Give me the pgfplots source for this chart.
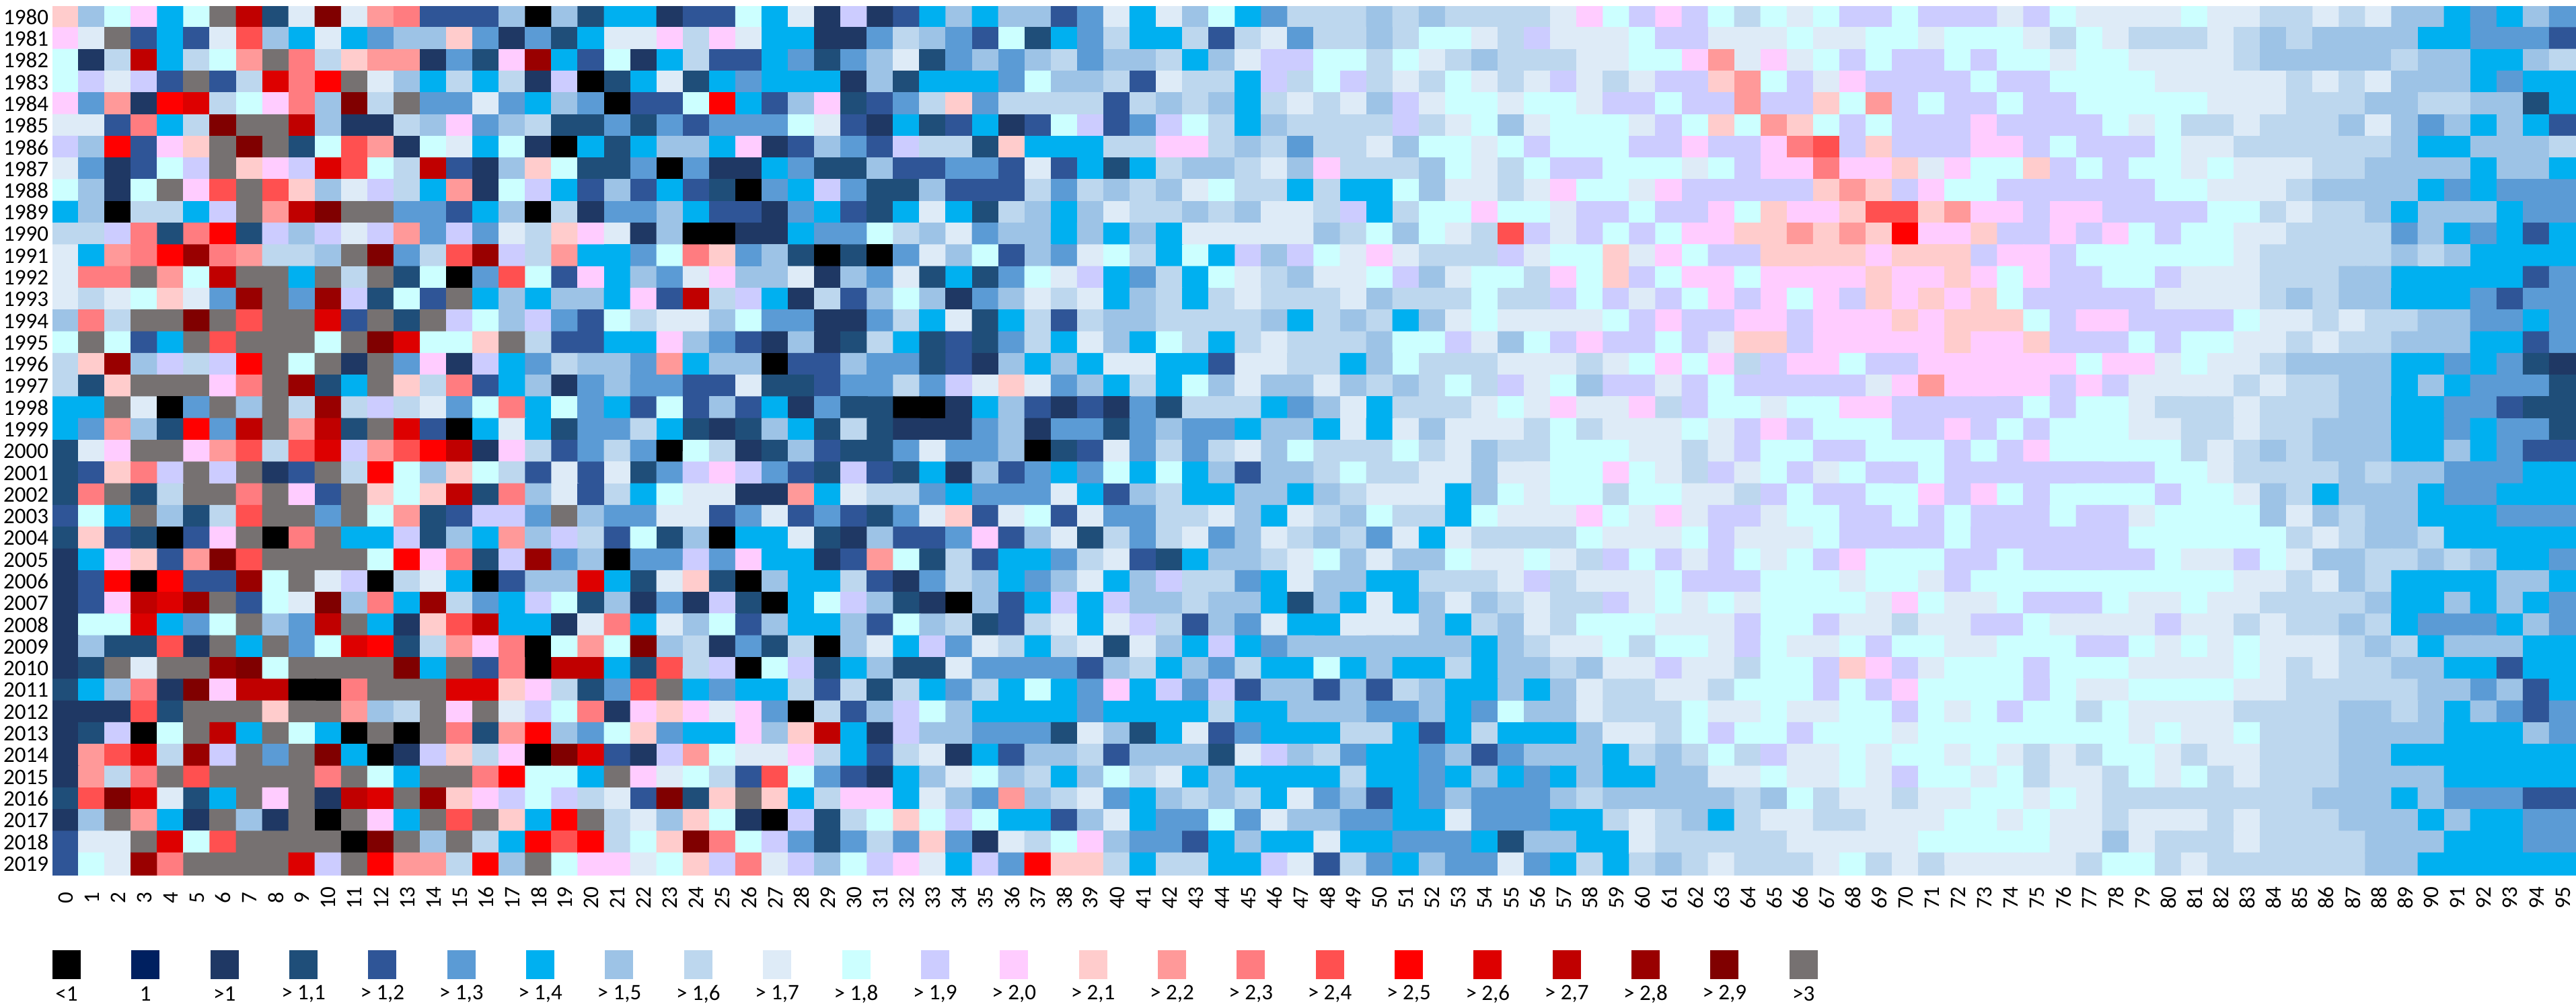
\documentclass[border=0pt]{standalone}
\usepackage{fontspec}
\setmainfont{Carlito}
\usepackage{pgfplots}
\pgfplotsset{compat=1.18}
\definecolor{c0}{RGB}{0,0,0}
\definecolor{c1}{RGB}{0,32,96}
\definecolor{c2}{RGB}{31,56,100}
\definecolor{c3}{RGB}{31,78,121}
\definecolor{c4}{RGB}{47,85,151}
\definecolor{c5}{RGB}{91,155,213}
\definecolor{c6}{RGB}{0,176,240}
\definecolor{c7}{RGB}{157,195,230}
\definecolor{c8}{RGB}{189,215,238}
\definecolor{c9}{RGB}{222,235,247}
\definecolor{c10}{RGB}{204,255,255}
\definecolor{c11}{RGB}{204,204,255}
\definecolor{c12}{RGB}{255,204,255}
\definecolor{c13}{RGB}{255,204,204}
\definecolor{c14}{RGB}{255,153,153}
\definecolor{c15}{RGB}{255,124,128}
\definecolor{c16}{RGB}{255,80,80}
\definecolor{c17}{RGB}{255,0,0}
\definecolor{c18}{RGB}{221,0,0}
\definecolor{c19}{RGB}{192,0,0}
\definecolor{c20}{RGB}{153,0,0}
\definecolor{c21}{RGB}{128,0,0}
\definecolor{c22}{RGB}{118,113,113}
\begin{document}
\begin{tikzpicture}[x=1pt,y=1pt]
\useasboundingbox (0,0) rectangle (765.8,298.4);
\begin{axis}[
  at={(15.6pt,38.2pt)},anchor=south west,scale only axis,
  width=750.2pt,height=258.4pt,
  xmin=-0.5,xmax=95.5,ymin=1979.5,ymax=2019.5,y dir=reverse,
  enlargelimits=false,
  xtick={0,...,95},ytick={1980,...,2019},
  major tick length=0pt,
  axis line style={draw=none},
  /pgf/number format/assume math mode=true,
  /pgf/number format/1000 sep={},
  tick label style={font=\fontsize{6.6}{7}\selectfont,black},
  xticklabel style={yshift=-6.8pt,rotate=90,anchor=center,inner sep=0pt},
  yticklabel style={inner sep=0pt,xshift=-1pt},
  colormap={heat}{rgb255=(0,0,0) rgb255=(0,32,96) rgb255=(31,56,100) rgb255=(31,78,121) rgb255=(47,85,151) rgb255=(91,155,213) rgb255=(0,176,240) rgb255=(157,195,230) rgb255=(189,215,238) rgb255=(222,235,247) rgb255=(204,255,255) rgb255=(204,204,255) rgb255=(255,204,255) rgb255=(255,204,204) rgb255=(255,153,153) rgb255=(255,124,128) rgb255=(255,80,80) rgb255=(255,0,0) rgb255=(221,0,0) rgb255=(192,0,0) rgb255=(153,0,0) rgb255=(128,0,0) rgb255=(118,113,113)},
  colormap access=direct,
]
\addplot[matrix plot*,mesh/cols=96,point meta=explicit] table[header=false,x expr={\coordindex-96*floor((\coordindex+0.5)/96)},y expr={1980+floor((\coordindex+0.5)/96)},meta index=0] {
13
7
10
12
6
10
22
19
3
9
21
9
14
15
4
4
4
7
0
7
3
6
6
2
4
4
10
6
9
2
11
2
4
6
7
6
7
7
4
5
9
6
9
7
10
6
5
8
8
8
7
8
7
8
8
8
8
9
12
10
11
12
11
10
8
10
9
10
11
11
10
11
11
11
9
11
10
9
9
9
9
10
9
9
8
8
9
8
9
7
7
6
5
6
7
5
12
9
22
4
6
4
9
16
7
6
9
6
5
7
7
13
5
2
5
3
6
9
9
12
8
12
9
6
6
2
2
5
8
7
5
4
10
3
6
5
8
6
6
8
4
8
9
5
8
8
7
8
10
10
9
8
11
9
9
9
10
11
11
9
9
9
10
9
9
10
10
9
10
10
10
9
8
10
9
8
8
8
9
8
7
8
7
7
7
7
6
6
5
5
5
4
10
2
8
19
6
8
10
14
22
15
8
13
14
14
2
5
3
12
20
6
4
10
2
6
8
4
4
6
5
3
5
7
9
3
5
7
5
7
8
5
7
7
8
6
7
9
11
11
10
10
8
10
9
8
7
8
8
8
9
9
10
10
12
14
9
12
9
10
11
10
11
11
10
11
10
10
9
10
10
9
9
9
9
8
7
7
7
7
7
8
7
7
6
6
7
8
10
11
9
11
4
22
4
8
18
15
17
22
9
7
6
8
6
8
2
11
0
3
6
9
3
6
5
6
6
6
2
7
3
6
6
6
5
10
7
7
8
4
9
8
8
6
11
8
10
11
8
9
8
10
9
8
9
11
9
8
9
11
11
13
14
10
11
9
12
11
11
11
11
10
11
11
10
10
10
10
9
9
9
9
9
8
9
8
9
7
7
7
6
5
6
6
12
5
14
2
17
18
8
10
12
15
7
21
8
22
5
5
9
5
6
7
5
0
4
4
10
17
6
4
7
12
3
4
5
8
13
5
8
8
8
8
4
8
7
8
7
6
8
9
8
9
7
11
9
10
10
9
10
10
9
11
11
10
11
11
14
11
11
13
10
14
11
10
11
11
10
11
11
10
10
10
10
10
9
9
9
8
8
8
7
7
8
8
7
7
3
6
9
9
4
15
6
8
21
22
22
19
7
2
2
8
7
12
5
7
8
3
3
5
3
5
4
5
5
5
10
9
4
2
6
3
4
6
2
4
10
11
4
5
11
10
8
6
7
8
8
8
8
11
8
9
10
7
9
10
10
10
9
11
10
13
10
14
13
10
11
10
11
11
11
12
11
11
11
11
10
9
10
8
8
9
8
8
8
7
9
7
5
7
6
7
6
4
11
7
17
4
12
13
22
21
22
3
10
16
14
2
10
9
6
10
2
0
6
3
6
7
7
6
12
2
4
7
5
4
11
8
8
3
13
6
6
6
8
8
12
12
8
7
8
5
8
8
9
7
10
10
9
10
11
10
10
10
11
11
12
11
11
12
15
16
11
13
11
11
11
12
12
11
10
11
11
11
10
9
9
8
8
8
8
8
8
7
6
6
7
7
7
8
9
5
2
4
10
11
22
13
12
11
18
16
10
8
19
4
2
7
13
10
3
3
5
0
5
2
2
6
5
3
3
7
4
4
5
5
4
9
4
6
3
6
8
7
7
8
9
7
12
8
8
8
7
10
9
8
10
11
11
10
10
10
9
10
11
12
12
15
12
12
13
9
12
10
10
13
11
10
11
10
10
9
10
9
9
9
8
8
7
7
7
7
6
7
7
6
10
7
2
10
22
12
16
22
16
13
7
9
11
8
6
14
2
10
11
6
4
7
4
6
4
3
0
5
6
11
5
3
3
7
4
4
4
8
5
8
7
8
7
9
10
8
8
6
8
6
6
10
7
9
9
8
9
12
10
10
9
12
11
11
11
11
11
13
14
13
11
12
10
10
11
11
11
11
11
11
10
10
9
9
9
8
7
7
7
7
6
5
6
5
5
5
6
7
0
8
8
6
11
22
14
19
21
22
22
5
5
4
6
7
0
8
2
5
5
7
6
4
4
2
5
6
4
3
6
9
6
3
8
7
6
7
9
8
8
7
8
7
9
9
8
11
6
8
10
10
12
10
10
9
11
11
10
11
11
12
10
13
12
12
13
16
16
13
14
12
12
11
12
12
11
11
11
11
10
10
8
9
8
8
7
6
7
7
7
6
5
5
8
8
11
15
3
15
17
3
11
7
11
9
11
14
5
11
5
9
8
13
12
9
2
7
0
0
2
2
6
5
5
10
8
7
9
5
7
7
6
7
6
7
6
9
9
9
9
9
7
8
10
7
10
9
8
16
11
9
11
10
11
10
12
12
13
13
14
13
14
13
17
12
12
13
11
11
12
11
12
10
11
10
10
9
9
8
8
8
8
5
7
6
5
6
4
6
9
6
14
15
17
20
15
14
8
8
7
22
21
5
8
16
20
11
8
14
6
6
5
10
15
13
5
7
3
0
3
0
5
9
7
10
4
7
5
9
10
8
6
10
6
11
7
11
10
9
12
9
8
8
8
11
9
10
10
13
9
12
10
11
11
13
13
13
13
12
13
13
13
11
12
12
11
10
10
10
10
10
10
9
8
8
8
8
8
7
8
7
6
6
6
6
9
15
15
22
14
10
19
22
22
6
22
8
22
3
10
0
5
16
10
4
12
6
7
5
9
12
7
7
9
2
7
5
9
3
6
3
5
10
9
11
6
5
8
6
10
9
8
7
9
9
10
11
7
9
10
10
8
12
10
13
11
10
12
12
10
12
12
12
12
13
12
12
13
12
10
12
11
11
10
10
11
9
9
9
8
8
8
7
7
6
6
6
6
6
4
5
9
8
9
10
13
9
5
20
22
5
20
11
3
10
4
22
6
7
6
7
7
6
12
4
19
8
11
6
2
8
4
7
10
7
2
5
7
9
8
9
6
7
8
6
8
9
8
8
8
9
7
8
8
8
10
8
8
11
10
11
9
11
10
12
11
12
10
12
11
13
12
13
12
13
10
11
11
11
11
11
9
9
9
9
8
7
8
7
7
6
6
6
5
4
5
5
7
15
8
22
22
21
22
16
22
22
18
4
22
3
22
11
10
7
11
5
4
10
8
9
9
7
10
5
5
2
2
5
8
6
9
3
6
8
4
8
7
7
8
8
8
8
7
6
8
7
8
6
7
9
10
9
9
9
9
10
11
12
11
11
12
12
11
12
12
12
13
12
13
13
13
10
11
12
12
11
11
11
11
10
9
9
8
9
8
8
7
7
5
5
6
5
10
22
10
4
6
22
16
22
22
22
10
22
21
18
10
10
13
22
8
4
4
6
6
12
7
5
4
2
7
2
3
8
6
3
4
3
5
8
6
9
7
6
10
8
6
8
9
8
8
8
7
10
10
11
9
7
10
11
12
11
11
10
11
9
13
13
11
12
12
12
12
12
13
12
12
13
11
11
11
10
11
10
10
9
9
8
9
8
8
7
7
7
6
6
4
5
8
13
20
7
11
8
11
17
22
10
22
2
22
5
12
2
11
6
5
8
7
7
5
14
6
7
7
0
4
4
7
5
5
3
4
2
7
6
7
6
9
9
6
6
4
9
9
8
8
6
7
10
8
8
8
9
9
9
8
9
10
12
10
12
8
11
12
12
10
11
11
12
12
12
12
12
12
10
12
12
9
10
9
9
8
7
7
7
7
6
6
5
6
5
3
2
8
3
13
22
22
22
12
15
22
20
3
6
22
13
8
15
4
6
7
2
5
7
5
5
4
4
9
3
3
4
5
5
8
5
11
9
13
9
5
7
6
8
6
10
7
9
7
7
9
7
8
7
8
10
8
11
9
10
7
11
11
9
11
10
11
11
11
11
11
9
12
14
12
12
12
12
11
12
11
9
9
9
9
8
9
8
8
7
7
6
7
6
5
5
5
3
6
6
22
9
0
5
22
7
22
8
20
8
11
8
9
5
10
15
6
10
5
6
4
10
4
7
4
6
2
5
3
3
0
0
2
6
7
4
2
4
2
5
3
8
8
8
6
5
7
9
6
8
8
8
9
10
9
12
9
9
12
8
11
10
10
9
10
10
12
12
11
11
11
11
11
10
11
10
10
9
8
8
8
9
8
8
8
7
7
6
6
5
5
4
3
3
6
5
14
7
3
17
5
19
22
14
19
3
22
18
4
0
6
9
6
3
5
5
8
6
3
2
3
7
6
3
8
3
2
2
2
5
7
2
5
5
3
5
7
5
5
6
7
7
6
9
6
9
7
9
9
9
8
10
8
9
9
9
10
9
11
12
11
10
10
10
11
11
12
11
10
11
10
10
10
9
9
8
8
9
8
8
7
7
7
6
6
5
6
5
5
3
3
9
12
22
22
12
14
16
8
16
18
11
14
16
17
19
2
12
8
4
5
8
5
0
10
8
2
3
7
4
3
3
5
9
5
5
7
0
3
4
9
5
8
5
8
9
7
10
8
8
8
10
8
9
7
8
8
10
10
10
9
9
8
9
11
10
10
11
11
10
10
10
11
10
11
12
10
10
10
10
10
8
9
8
7
8
7
7
7
6
6
7
6
5
4
4
3
4
13
15
11
22
11
22
2
4
22
8
17
10
7
13
10
8
4
9
4
9
3
5
11
12
11
5
4
3
11
4
3
6
2
7
4
5
6
5
10
6
10
6
7
4
7
7
8
10
8
8
9
9
7
9
9
10
10
12
10
9
8
11
9
10
11
9
10
11
11
10
11
11
11
11
11
11
11
11
10
10
9
8
8
8
8
7
8
7
7
5
5
5
6
6
3
15
22
3
8
22
22
15
22
12
4
22
13
10
13
19
3
15
7
9
4
8
6
10
9
9
2
2
14
6
9
8
8
5
6
5
5
5
9
6
4
7
8
6
6
7
7
6
7
8
9
9
9
6
7
10
9
10
10
8
10
10
9
9
8
11
10
11
11
10
10
12
11
12
10
11
10
10
10
10
11
10
10
9
7
8
6
7
7
7
6
5
5
6
6
6
4
10
6
22
7
3
8
16
22
22
5
22
10
14
3
4
11
11
5
22
7
5
5
9
9
4
5
9
4
5
4
3
5
9
13
4
9
10
4
9
5
5
8
8
9
7
6
9
8
7
10
8
8
6
10
9
9
9
12
10
9
12
9
11
11
9
10
10
11
11
10
11
10
11
11
11
10
11
11
9
10
10
10
10
7
9
7
8
7
7
6
6
6
5
5
5
3
13
4
3
0
4
12
22
0
15
22
6
6
11
3
7
6
14
7
11
8
4
10
3
7
0
6
6
9
3
2
7
4
4
5
12
4
7
9
3
8
5
8
9
5
7
9
8
7
8
5
9
6
9
8
8
8
8
10
9
9
9
10
11
9
9
9
10
11
11
11
11
10
11
11
11
11
11
11
10
10
10
10
10
10
8
9
8
7
7
8
6
6
6
6
6
2
6
12
13
4
14
21
16
22
22
22
22
10
17
12
15
3
11
20
5
7
0
5
5
11
5
12
6
6
2
4
14
10
3
8
4
6
6
5
8
9
4
3
6
7
7
8
9
10
7
9
7
7
10
9
9
10
9
8
11
10
11
9
11
10
9
10
11
12
10
10
10
11
11
10
11
11
11
11
11
10
9
9
11
10
9
7
7
8
8
7
8
7
6
6
5
2
4
17
0
17
4
4
20
10
22
9
11
0
8
9
6
0
4
7
7
18
6
3
9
13
3
0
7
6
6
8
4
2
5
8
7
6
5
7
9
6
7
11
8
8
5
6
9
7
7
6
6
8
8
8
9
11
8
9
9
9
10
11
11
11
10
10
10
9
10
10
9
11
10
10
10
10
10
10
10
10
10
10
9
9
8
9
7
8
6
6
6
6
7
7
6
2
4
12
19
18
20
22
4
10
9
21
7
15
6
20
8
5
6
11
10
3
7
2
5
2
11
3
0
6
10
11
7
3
2
0
7
4
6
11
6
11
7
7
8
7
7
6
3
7
6
9
6
7
9
7
8
9
8
8
11
9
10
9
10
9
10
10
10
10
9
12
10
9
9
10
11
11
11
10
9
9
10
9
9
8
8
8
8
7
6
6
7
6
7
6
5
2
10
10
18
6
5
10
22
7
5
19
22
6
2
13
16
19
6
6
2
9
15
6
9
7
10
4
7
6
6
7
4
10
7
8
3
4
8
9
6
9
11
8
4
7
5
9
6
6
9
9
9
7
6
8
7
9
8
10
10
10
9
9
9
11
10
10
11
9
9
8
9
9
11
11
10
9
9
9
9
11
9
9
8
9
8
8
7
8
6
5
5
5
6
7
5
2
7
3
3
16
2
22
6
22
5
10
18
17
3
8
14
12
15
0
10
14
10
21
7
8
2
5
3
8
0
7
9
6
11
5
9
8
6
8
9
3
9
7
6
11
6
5
7
7
7
7
7
7
7
6
7
8
9
9
10
8
10
10
9
11
10
9
9
10
11
10
10
9
9
10
10
10
11
11
10
9
10
9
10
9
9
9
8
7
8
6
7
7
7
6
6
2
3
22
9
22
22
20
21
10
22
22
22
22
21
6
22
4
15
0
19
19
6
3
16
8
11
0
10
11
3
6
7
3
3
9
5
5
5
5
4
7
8
6
7
5
8
6
6
10
6
7
6
6
8
6
7
7
8
7
9
9
11
9
9
8
10
10
11
13
12
11
9
10
10
10
11
10
10
10
9
9
9
9
10
9
8
9
8
8
7
7
6
6
4
6
6
3
6
7
15
2
21
12
19
19
0
0
15
22
22
22
18
18
13
12
8
3
5
16
22
6
5
6
6
8
4
8
3
8
6
5
8
6
10
6
5
12
6
11
5
11
4
7
7
4
7
4
8
7
6
6
7
6
7
9
8
8
9
9
8
10
10
10
11
10
11
12
10
10
10
10
11
10
9
9
10
10
10
10
9
9
8
8
8
8
8
7
7
5
7
4
6
2
2
2
16
3
22
22
22
13
22
22
14
7
8
22
12
22
9
11
10
15
2
12
13
12
9
12
5
0
8
4
7
11
10
7
6
6
6
6
5
6
6
6
6
8
6
6
7
7
7
5
5
7
6
5
10
7
7
9
8
8
8
10
9
9
10
9
9
10
10
11
10
9
10
11
10
10
8
10
9
9
9
9
8
8
8
8
7
7
8
7
6
7
5
4
5
2
3
11
0
10
22
19
6
22
10
6
0
22
0
22
15
3
14
17
7
5
10
13
5
6
6
12
7
13
19
6
2
11
7
7
5
5
5
3
9
7
3
6
9
4
5
6
6
6
8
8
6
4
6
8
6
6
6
7
9
9
8
10
11
10
10
11
10
10
10
9
10
10
10
10
10
10
10
10
9
10
9
9
10
8
8
8
7
7
7
7
6
6
6
7
5
2
14
16
18
8
20
11
22
5
22
21
6
0
2
11
13
8
12
0
21
18
4
2
11
14
10
9
9
12
8
6
4
8
9
2
6
4
7
7
8
4
7
7
7
3
9
11
7
8
5
6
6
5
7
4
5
7
7
7
6
8
7
8
10
8
11
9
9
10
9
10
10
9
10
9
8
9
8
10
10
9
8
9
9
8
8
8
7
7
6
6
6
6
6
6
6
2
14
8
15
22
16
22
22
22
22
15
22
10
6
22
22
15
17
10
10
6
22
12
9
10
8
4
16
10
5
4
2
6
7
9
10
7
8
6
7
10
8
9
6
7
6
6
6
6
8
6
6
5
6
7
6
5
6
7
6
6
7
7
9
9
10
9
9
10
9
11
10
10
9
10
8
9
9
8
10
9
10
8
9
8
8
8
7
7
7
7
6
6
6
6
6
3
16
21
18
9
3
6
22
12
22
2
19
18
22
20
13
12
11
10
11
8
9
4
21
3
13
22
13
6
8
12
12
6
9
7
5
14
7
8
9
5
6
7
8
7
8
6
9
5
7
4
6
5
7
5
5
5
7
8
7
7
7
7
7
8
7
10
8
9
9
8
9
9
10
10
9
10
9
8
8
8
8
8
8
8
8
7
7
7
6
7
5
5
5
4
4
2
7
22
14
6
2
22
7
2
22
0
22
12
6
22
16
22
13
6
17
22
8
9
7
13
10
2
0
11
3
8
10
13
10
11
10
6
6
4
7
9
6
5
5
10
5
9
7
7
5
5
6
6
9
5
5
5
6
6
8
9
8
7
6
8
9
9
8
8
9
9
9
10
10
9
10
9
9
8
9
9
9
8
9
8
8
8
7
7
7
6
7
6
6
5
5
4
9
9
22
18
10
16
22
22
22
22
0
21
22
7
22
8
6
17
16
17
8
10
13
21
15
10
11
5
3
5
8
5
13
5
2
9
8
10
12
7
5
5
4
6
7
6
6
9
6
6
5
5
5
6
3
7
7
6
6
9
8
8
8
8
8
9
9
9
9
9
10
10
10
10
10
9
9
7
9
8
8
8
9
8
8
8
8
7
7
7
6
6
6
5
5
4
10
9
20
15
22
22
22
22
18
11
22
17
14
14
8
17
7
22
10
12
12
9
10
13
11
15
9
11
7
10
11
12
9
6
11
5
17
13
13
8
6
8
8
6
6
11
9
4
8
5
6
7
5
5
9
5
6
8
6
8
7
8
9
8
8
8
9
10
8
9
8
9
9
9
9
9
8
10
10
8
9
8
8
8
8
8
8
7
7
6
6
6
6
6
6
};
\end{axis}
\foreach \i/\t in {0/{<1},1/{1},2/{>1},3/{> 1,1},4/{> 1,2},5/{> 1,3},6/{> 1,4},7/{> 1,5},8/{> 1,6},9/{> 1,7},10/{> 1,8},11/{> 1,9},12/{> 2,0},13/{> 2,1},14/{> 2,2},15/{> 2,3},16/{> 2,4},17/{> 2,5},18/{> 2,6},19/{> 2,7},20/{> 2,8},21/{> 2,9},22/{>3}}{
  \fill[c\i] ({15.6+23.47*\i},7.2) rectangle ++(8.4,8.6);
  \node[font=\fontsize{6.6}{7}\selectfont,inner sep=0pt,black] at ({19.8+23.47*\i},2.8) {\t};
}
\end{tikzpicture}
\end{document}
